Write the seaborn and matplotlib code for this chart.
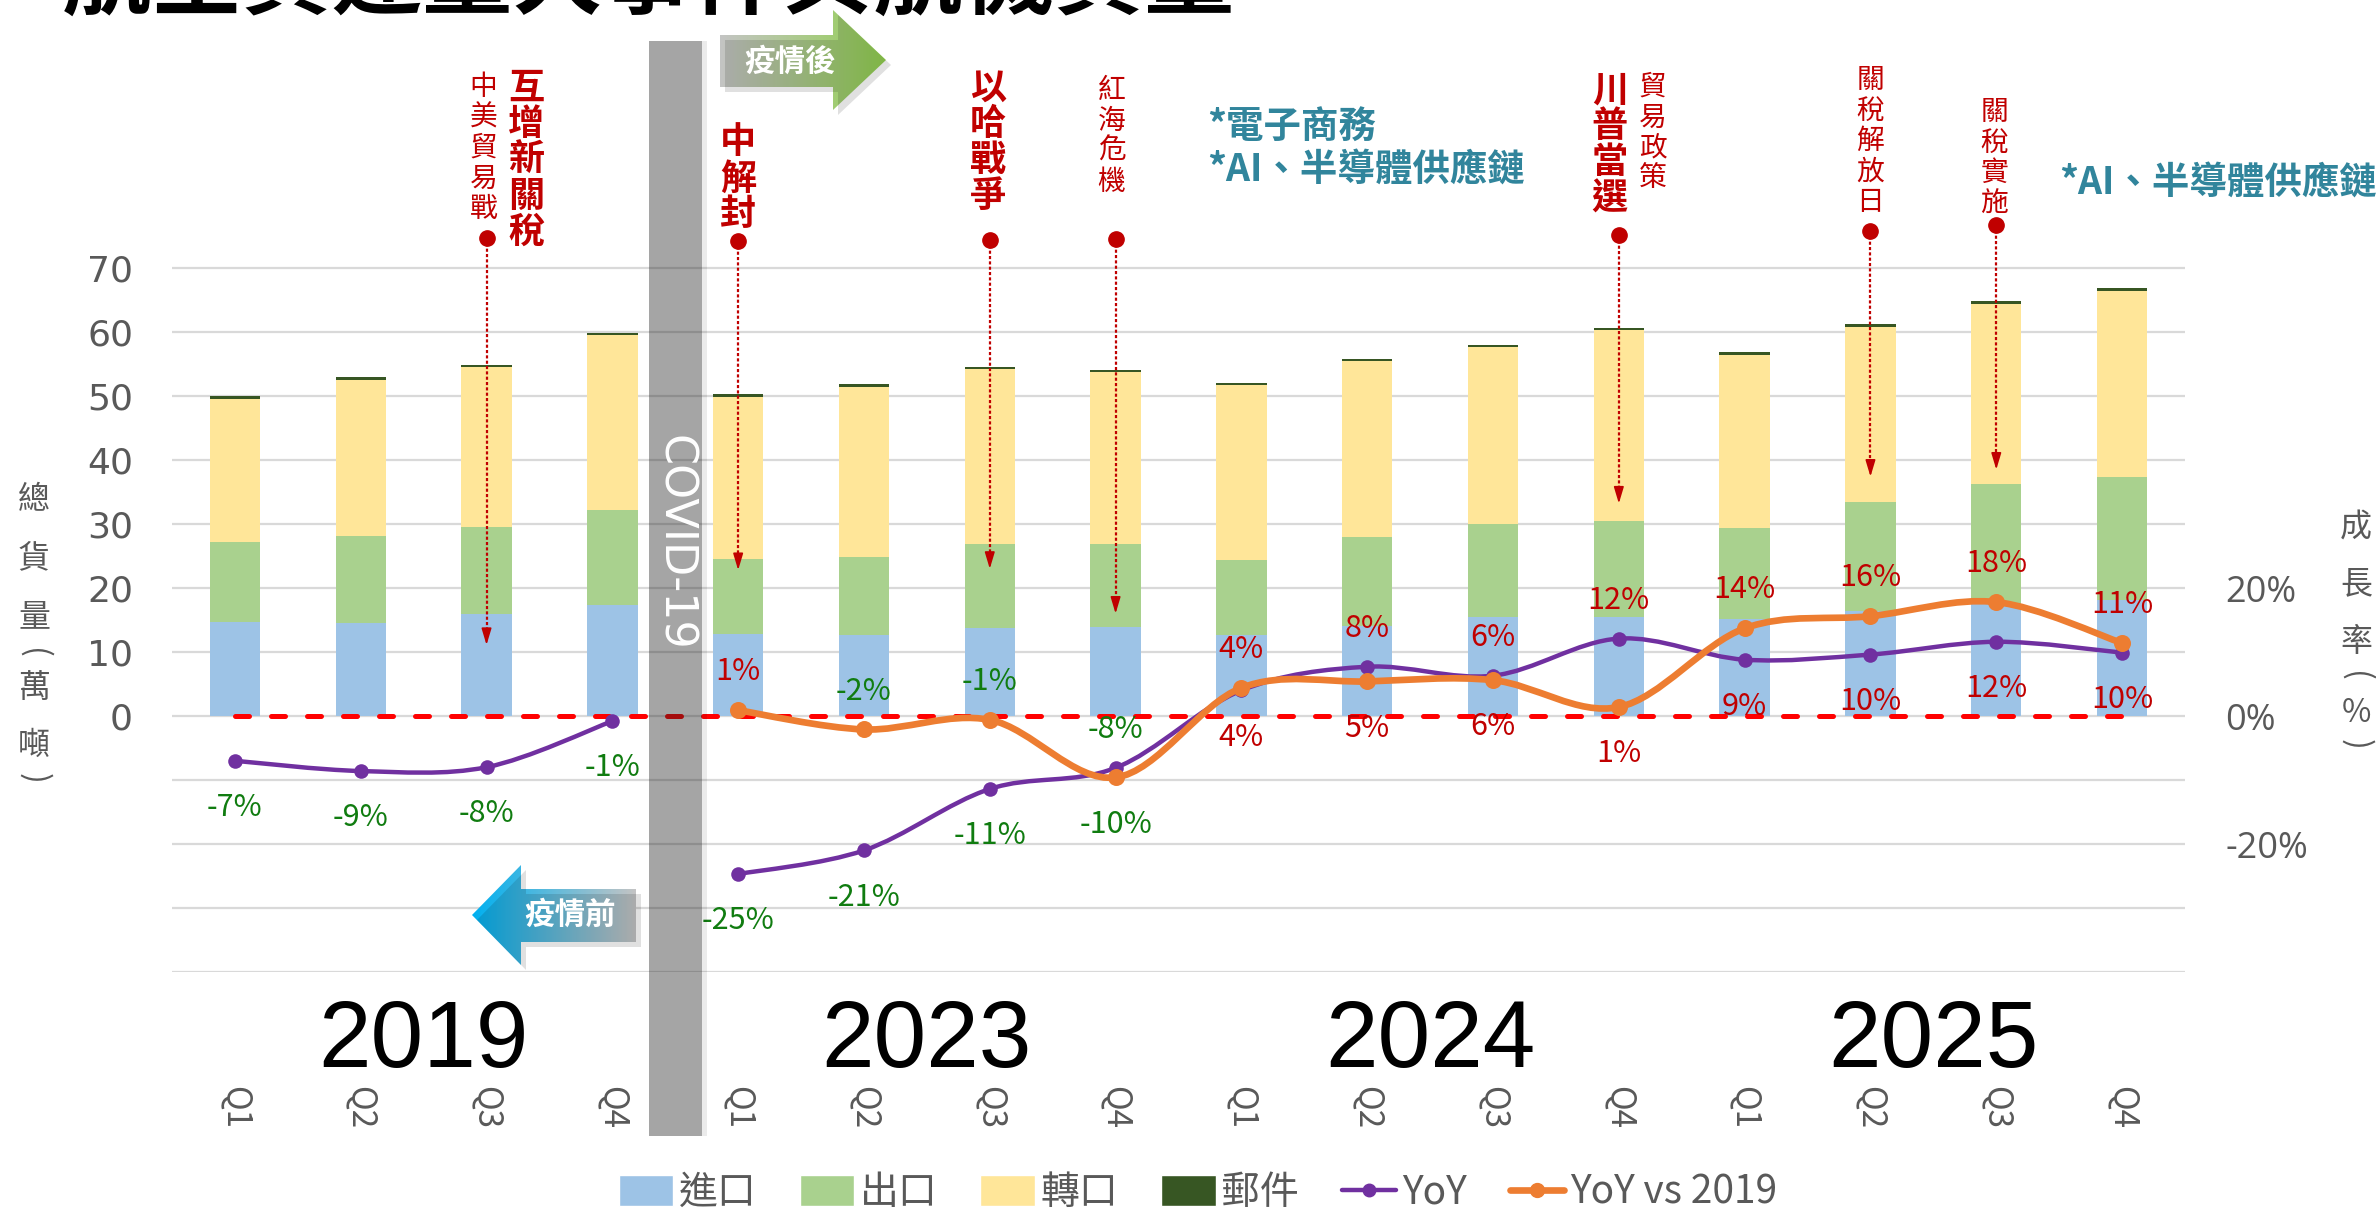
import numpy as np
import pandas as pd
import seaborn as sns
import matplotlib.pyplot as plt
import matplotlib.colors as mcolors
from matplotlib.path import Path
from matplotlib.patches import PathPatch, Rectangle, Polygon, Patch
from matplotlib.lines import Line2D
from matplotlib.transforms import blended_transform_factory

W, H = 2376, 1213

# ---- data -------------------------------------------------------------
years = ["2019", "2023", "2024", "2025"]
quarters = ["Q1", "Q2", "Q3", "Q4"]
periods = [y + q for y in years for q in quarters]

imports = [14.7, 14.6, 16.0, 17.3, 12.8, 12.6, 13.8, 13.9, 12.7, 14.0, 15.4, 15.5, 15.1, 16.4, 17.5, 18.2]
exports = [12.5, 13.5, 13.5, 14.9, 11.7, 12.3, 13.0, 12.9, 11.7, 13.9, 14.6, 15.0, 14.3, 17.1, 18.7, 19.2]
transship = [22.4, 24.4, 25.0, 27.3, 25.4, 26.5, 27.4, 26.9, 27.3, 27.5, 27.6, 29.8, 27.0, 27.3, 28.2, 29.0]
mail = [0.4, 0.4, 0.4, 0.4, 0.4, 0.4, 0.4, 0.4, 0.4, 0.4, 0.4, 0.4, 0.4, 0.4, 0.4, 0.4]

yoy = [-7.0, -8.6, -8.0, -0.8, -24.7, -21.0, -11.4, -8.1, 4.0, 7.7, 6.3, 12.1, 8.8, 9.6, 11.6, 9.9]
yoy_vs_2019 = [np.nan, np.nan, np.nan, np.nan, 0.9, -2.1, -0.6, -9.6, 4.4, 5.4, 5.6, 1.4, 13.7, 15.6, 17.8, 11.4]

event_period = ["2019Q3", "2023Q1", "2023Q3", "2023Q4", "2024Q4", "2025Q2", "2025Q3"]
event_main = ["互增新關稅", "中解封", "以哈戰爭", "", "川普當選", "", ""]
event_note = ["中美貿易戰", "", "", "紅海危機", "貿易政策", "關稅解放日", "關稅實施"]
event_target = [11.1, 22.8, 23.0, 16.0, 33.2, 37.4, 38.5]

# ---- style ------------------------------------------------------------
sns.set_theme(style="white")
plt.rcParams["font.family"] = ["Noto Sans CJK TC", "DejaVu Sans"]

C_IMP, C_EXP, C_TRA, C_MAIL = "#9DC3E6", "#A9D18E", "#FFE699", "#375623"
C_YOY, C_Y19 = "#7030A0", "#ED7D31"
RED, GREEN, GREY, TEAL = "#C00000", "#107C10", "#595959", "#31859C"

df = pd.DataFrame({"period": periods, "進口": imports, "出口": exports,
                   "轉口": transship, "郵件": mail})
cum = df[["進口", "出口", "轉口", "郵件"]].cumsum(axis=1)
xi = np.arange(len(periods))

fig = plt.figure(figsize=(W / 100, H / 100), dpi=100)
ax = fig.add_axes([172 / W, 1 - 972 / H, (2185 - 172) / W, (972 - 204) / H])

# stacked bars: draw cumulative totals from the top layer down
for name, col in [("郵件", C_MAIL), ("轉口", C_TRA), ("出口", C_EXP), ("進口", C_IMP)]:
    sns.barplot(x=df["period"], y=cum[name], order=periods, color=col, width=0.4,
                saturation=1, errorbar=None, linewidth=0, ax=ax)

ax.set_xlim(-0.5, 15.5)
ax.set_ylim(-40, 80)
yt = np.arange(-40, 71, 10)
ax.set_yticks(yt)
ax.set_yticklabels([str(v) if v >= 0 else "" for v in yt], fontfamily="DejaVu Sans")
ax.grid(axis="y", color="#D9D9D9", lw=1.6)
ax.grid(axis="x", visible=False)
ax.set_axisbelow(True)
ax.set_xlabel("")
ax.set_ylabel("")
ax.set_xticks(xi)
ax.set_xticklabels(quarters * 4, rotation=-90, fontsize=24, color=GREY)
ax.tick_params(axis="x", length=0, pad=82)
ax.tick_params(axis="y", length=0, pad=28, labelsize=26, labelcolor=GREY)
for s in ax.spines.values():
    s.set_visible(False)

ax2 = ax.twinx()
ax2.set_ylim(-40, 80)
ax2.set_yticks([-20, 0, 20])
ax2.set_yticklabels(["-20%", "0%", "20%"], fontfamily="Open Sans")
ax2.tick_params(axis="y", length=0, pad=29, labelsize=26, labelcolor=GREY)
ax2.grid(False)
for s in ax2.spines.values():
    s.set_visible(False)

# zero reference line
ax2.plot(xi[[0, -1]], [0, 0], color="#FF0000", lw=3.6, dashes=(2.8, 4.4),
         dash_capstyle="round", zorder=3)


def smooth_path(xs, ys, t=1 / 6):
    pts = np.column_stack([xs, ys])
    verts, codes = [pts[0]], [Path.MOVETO]
    n = len(pts)
    for i in range(n - 1):
        p0 = pts[i - 1] if i > 0 else pts[i]
        p1, p2 = pts[i], pts[i + 1]
        p3 = pts[i + 2] if i + 2 < n else pts[i + 1]
        verts += [p1 + (p2 - p0) * t, p2 - (p3 - p1) * t, p2]
        codes += [Path.CURVE4] * 3
    return Path(verts, codes)


yoy_a = np.array(yoy)
y19_a = np.array(yoy_vs_2019)
pre = np.array([p.startswith("2019") for p in periods])

for mask in (pre, ~pre):
    ax2.add_patch(PathPatch(smooth_path(xi[mask], yoy_a[mask]), fill=False,
                            ec=C_YOY, lw=3.2, capstyle="round", zorder=4))
sns.scatterplot(x=xi, y=yoy_a, color=C_YOY, s=110, linewidth=0, ax=ax2, zorder=5)

ok = ~np.isnan(y19_a)
ax2.add_patch(PathPatch(smooth_path(xi[ok], y19_a[ok]), fill=False,
                        ec=C_Y19, lw=4.8, capstyle="round", zorder=6))
sns.scatterplot(x=xi[ok], y=y19_a[ok], color=C_Y19, s=150, linewidth=0, ax=ax2, zorder=7)
ax2.set_xlim(-0.5, 15.5)
ax2.set_ylim(-40, 80)


def pct_label(x, v, above):
    r = int(round(v))
    ax2.text(x, v + (6.0 if above else -7.3), f"{r}%", ha="center", va="center",
             fontsize=22, color=RED if r >= 0 else GREEN, zorder=8)


for i in xi:
    p, o = yoy_a[i], y19_a[i]
    if np.isnan(o):
        pct_label(i, p, False)
    else:
        hi, lo = (o, p) if o > p else (p, o)
        pct_label(i, hi, True)
        pct_label(i, lo, False)

# ---- event markers ----------------------------------------------------
tr = blended_transform_factory(ax2.transData, fig.transFigure)
px = 2013 / 16  # pixels per category
main_dx = [40, 0, -2, 0, -9, 0, 0]
main_y0 = [88, 143, 88, 0, 91, 0, 0]
note_dx = [-3, 0, 0, -4, 34, 0, -2]
note_y0 = [87, 0, 0, 90, 87, 80, 112]
dot_y = [74.7, 74.2, 74.4, 74.5, 75.2, 75.8, 76.7]


def vtext(x, y0, pitch, s, **kw):
    for k, ch in enumerate(s):
        ax2.text(x, 1 - (y0 + k * pitch) / H, ch, transform=tr, ha="center",
                 va="center", clip_on=False, **kw)


for k, per in enumerate(event_period):
    x = periods.index(per)
    ax2.plot([x], [dot_y[k]], "o", color=RED, ms=11, clip_on=False, zorder=9)
    ax2.plot([x, x], [dot_y[k], event_target[k] + 1.6], color=RED, lw=1.6,
             dashes=(1.4, 1.0), zorder=9)
    ax2.annotate("", xy=(x, event_target[k]), xytext=(x, event_target[k] + 2.2),
                 arrowprops=dict(arrowstyle="-|>,head_length=1.0,head_width=0.3",
                                 color=RED, lw=1.2, shrinkA=0, shrinkB=0,
                                 mutation_scale=10), zorder=9)
    if event_main[k]:
        vtext(x + main_dx[k] / px, main_y0[k], 36, event_main[k], color=RED,
              fontsize=26, fontweight="bold")
    if event_note[k]:
        vtext(x + note_dx[k] / px, note_y0[k], 30.5, event_note[k], color=RED,
              fontsize=20)

# ---- decorations in pixel space ----------------------------------------
ov = fig.add_axes([0, 0, 1, 1], zorder=5)
ov.axis("off")


def grad_arrow(poly, c_from, c_to):
    shadow = Polygon([(x + 5, y + 5) for x, y in poly], closed=True,
                     fc="#000000", alpha=0.12, ec="none")
    ov.add_patch(shadow)
    patch = Polygon(poly, closed=True, fc="none", ec="none")
    ov.add_patch(patch)
    xs = [p[0] for p in poly]
    ys = [p[1] for p in poly]
    g = np.linspace(0, 1, 256)[None, :, None]
    c0 = np.array(mcolors.to_rgb(c_from))
    c1 = np.array(mcolors.to_rgb(c_to))
    img = c0 + (c1 - c0) * g
    im = ov.imshow(img, extent=(min(xs), max(xs), max(ys), min(ys)), aspect="auto")
    im.set_clip_path(patch)


grad_arrow([(720, 35), (833, 35), (833, 10), (886, 60), (833, 110), (833, 87), (720, 87)],
           "#C4C4C4", "#92D050")
grad_arrow([(636, 889), (521, 889), (521, 865), (472, 915), (521, 965), (521, 942), (636, 942)],
           "#00B0F0", "#C4C4C4")
ov.text(790, 62, "疫情後", color="white", fontsize=22, fontweight="bold",
        ha="center", va="center")
ov.text(570, 915, "疫情前", color="white", fontsize=22, fontweight="bold",
        ha="center", va="center")

ov.add_patch(Rectangle((649, 41), 53, 1095, fc="#1F1F1F", alpha=0.4, ec="none"))
ov.add_patch(Rectangle((702, 41), 5, 1095, fc="#000000", alpha=0.08, ec="none"))
ov.text(675, 543, "COVID-19", rotation=-90, color="white", fontsize=32,
        family="DejaVu Sans", ha="center", va="center", zorder=6)

ov.text(1207, 127, "*電子商務", color=TEAL, fontsize=27, fontweight="bold", va="center")
ov.text(1207, 170, "*AI、半導體供應鏈", color=TEAL, fontsize=27, fontweight="bold", va="center")
ov.text(2059, 183, "*AI、半導體供應鏈", color=TEAL, fontsize=27, fontweight="bold", va="center")

ov.set_xlim(0, W)
ov.set_ylim(H, 0)

# title (its top is cut off in the original too)
fig.text(62 / W, 1 - 7 / H, "航空貨運量大事件與航機貨量", fontsize=65,
         fontweight="bold", color="black", ha="left", va="baseline")

# year captions
ty = blended_transform_factory(ax.transData, fig.transFigure)
for k, y in enumerate(years):
    ax.text(4 * k + 1.5, 1 - 1067 / H, y, transform=ty, fontsize=68,
            family="Liberation Sans", ha="center", va="baseline", color="black")


# axis titles, stacked vertically
def stack(xp, ys, chars):
    for yp, ch in zip(ys, chars):
        rot = -90 if ch in "()" else 0
        fig.text(xp / W, 1 - yp / H, ch, rotation=rot, fontsize=23, color=GREY,
                 ha="center", va="center")


stack(34, [500, 558, 617, 653, 688, 746, 778], "總貨量(萬噸)")
stack(2356, [528, 584, 642, 676, 713, 744], "成長率(%)")

# legend
handles = [Patch(fc=C_IMP), Patch(fc=C_EXP), Patch(fc=C_TRA), Patch(fc=C_MAIL),
           Line2D([], [], color=C_YOY, lw=3.2, marker="o", ms=9),
           Line2D([], [], color=C_Y19, lw=4.8, marker="o", ms=10)]
fig.legend(handles, ["進口", "出口", "轉口", "郵件", "YoY", "YoY vs 2019"],
           loc="center", bbox_to_anchor=(1198 / W, 1 - 1193 / H), ncol=6,
           frameon=False, fontsize=28, labelcolor=GREY, handlelength=1.4,
           handleheight=0.85, handletextpad=0.15, columnspacing=1.1)

fig.savefig("out.png", dpi=100)
